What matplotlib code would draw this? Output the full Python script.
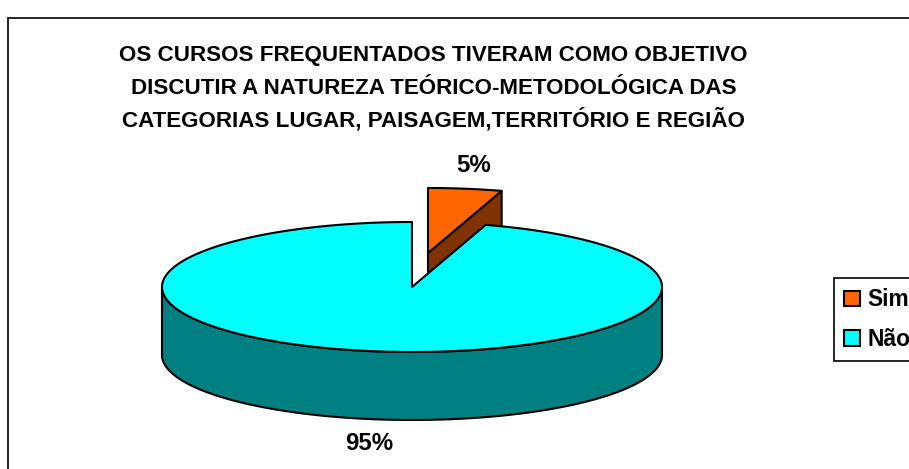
import numpy as np
import matplotlib
matplotlib.use("Agg")
import matplotlib.pyplot as plt
from matplotlib.patches import Patch, Polygon, Rectangle

plt.rcParams['font.family'] = ['Liberation Sans', 'DejaVu Sans']

categories = ["Sim", "Não"]
values = [4.76, 95.24]
title_lines = ["OS CURSOS FREQUENTADOS TIVERAM COMO OBJETIVO",
               "DISCUTIR A NATUREZA TEÓRICO-METODOLÓGICA DAS",
               "CATEGORIAS LUGAR, PAISAGEM,TERRITÓRIO E REGIÃO"]

TOP = {"Sim": "#FF6600", "Não": "#00FFFF"}
SIDE = {"Sim": "#803300", "Não": "#008080"}
CX, CY, RX, RY, DEPTH = 412, 287, 250, 65, 68
EX, EY = 16, -34
LW = 1.5

fig = plt.figure(figsize=(9.09, 4.69), dpi=100)
ax = fig.add_axes([0, 0, 1, 1])
ax.set_xlim(0, 909)
ax.set_ylim(469, 0)
ax.axis("off")


def rim(a0, a1, cx=CX, cy=CY, n=200):
    """Ellipse points, angles in degrees clockwise from the top."""
    t = np.radians(np.linspace(a0, a1, n))
    return np.column_stack([cx + RX * np.sin(t), cy - RY * np.cos(t)])


sweep = 360 * values[0] / sum(values)

# chart frame (runs past the right and bottom of the picture)
ax.add_patch(Rectangle((8, 18), 930, 480, fc="white", ec="black", lw=1.2, zorder=0))

# exploded slice: cut wall, then top
cx2, cy2 = CX + EX, CY + EY
end2 = rim(sweep, sweep, cx2, cy2, 1)[0]
ax.add_patch(Polygon([(cx2, cy2), end2, end2 + (0, DEPTH), (cx2, cy2 + DEPTH)],
                     fc=SIDE["Sim"], ec="black", lw=LW, zorder=1))
ax.add_patch(Polygon(np.vstack([[(cx2, cy2)], rim(0, sweep, cx2, cy2)]),
                     fc=TOP["Sim"], ec="black", lw=LW, joinstyle="round", zorder=2))

# main slice: outer wall, then top
low = rim(90, 270)
ax.add_patch(Polygon(np.vstack([low, (low + (0, DEPTH))[::-1]]),
                     fc=SIDE["Não"], ec="black", lw=LW, joinstyle="round", zorder=3))
ax.add_patch(Polygon(np.vstack([[(CX, CY)], rim(sweep, 360)]),
                     fc=TOP["Não"], ec="black", lw=LW, joinstyle="round", zorder=4))

# title and data labels
for line, y in zip(title_lines, [55, 88, 120]):
    ax.text(433.5, y, line, ha="center", va="center", fontsize=16.1,
            fontweight="bold", color="black")
ax.text(474, 166, f"{values[0]:.0f}%", ha="center", va="center",
        fontsize=17.3, fontweight="bold")
ax.text(369, 444, f"{values[1]:.0f}%", ha="center", va="center",
        fontsize=17.3, fontweight="bold")

# legend
handles = [Patch(fc=TOP[c], ec="black", lw=1.5, label=c) for c in categories]
leg = ax.legend(handles=handles, loc="upper left", bbox_to_anchor=(834, 278),
                bbox_transform=ax.transData, fancybox=False, framealpha=1,
                edgecolor="black", borderaxespad=0, borderpad=0.46,
                prop=dict(size=16.4, weight="bold"), labelspacing=0.72,
                handlelength=0.66, handleheight=0.66, handletextpad=0.36)
leg.get_frame().set_linewidth(1.2)

fig.savefig("out.png", dpi=100)
